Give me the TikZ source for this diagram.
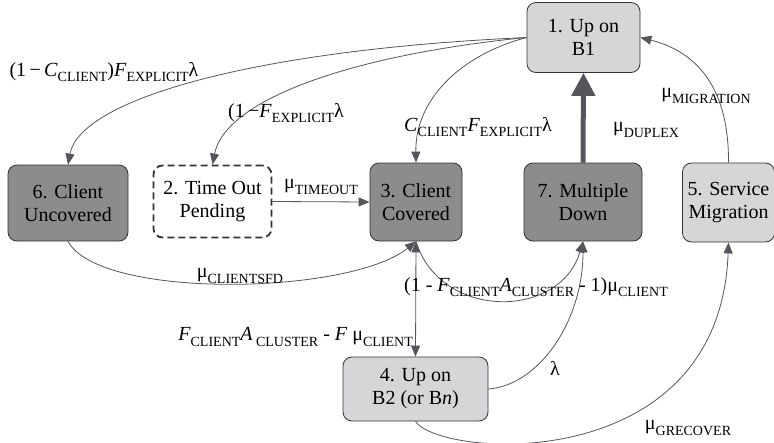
\documentclass[tikz,border=0pt]{standalone}
\usepackage{fontspec}
\setmainfont{Liberation Serif}
\newfontfamily\statefont{Liberation Serif}
\usepackage{tikz}
\usetikzlibrary{arrows.meta,positioning,calc}
\definecolor{darkstate}{HTML}{8C8C8E}
\definecolor{lightstate}{HTML}{D6D6D8}
\definecolor{edgegray}{HTML}{55565B}
\newcommand{\sub}[1]{\raisebox{-0.28em}{\fontsize{14}{14}\selectfont #1}}
\tikzset{
    state/.style={rounded corners=9pt, draw=black!80, thick, align=center, font=\statefont\fontsize{20}{23}\selectfont, inner sep=2pt},
    darkbox/.style={state, fill=darkstate},
    lightbox/.style={state, fill=lightstate},
    pendbox/.style={state, line width=1.8pt, dash pattern=on 7pt off 4pt, fill=white},
    trans/.style={draw=edgegray, line width=0.8pt, -{Triangle[length=11pt,width=9pt]}},
    rate/.style={font=\statefont\fontsize{20}{23}\selectfont, inner sep=1pt}
}

\begin{document}
\begin{tikzpicture}[x=1pt, y=-1pt]
    \useasboundingbox (0,0) rectangle (774,442);

    % States
    \node[lightbox, minimum width=113pt, minimum height=70pt] (up1) at (583.5,37.5) {1. Up on\\B1};
    \node[darkbox, minimum width=120pt, minimum height=76pt] (uncov) at (68,203) {6. Client\\Uncovered};
    \node[pendbox, minimum width=118pt, minimum height=72pt] (pend) at (212.5,201.5) {2. Time Out\\Pending};
    \node[darkbox, minimum width=92pt, minimum height=78pt] (cov) at (416,202) {3. Client\\Covered};
    \node[darkbox, minimum width=118pt, minimum height=78pt] (multi) at (583,202) {7. Multiple\\Down};
    \node[lightbox, minimum width=92pt, minimum height=79pt] (migr) at (728.5,202.5) {5. Service\\Migration};
    \node[lightbox, minimum width=145pt, minimum height=64pt] (up2) at (415.5,389) {4. Up on\\B2 (or B\textit{n})};

    % Transitions out of state 1
    \draw[trans] (up1.west) .. controls (250,50) and (80,100) .. (uncov.north);
    \draw[trans] (up1.west) .. controls (350,55) and (225,100) .. (pend.north);
    \draw[trans] (up1.west) .. controls (460,55) and (415,100) .. (cov.north);

    % Transitions back to state 1
    \draw[draw=edgegray, line width=5pt, -{Triangle[length=23pt,width=23pt]}] (multi.north) -- (up1.south);
    \draw[trans] (migr.north) .. controls (729,80) and (690,50) .. (up1.east);

    % Lower transitions
    \draw[trans] (pend.east) -- (cov.west);
    \draw[trans] (uncov.south) .. controls (100,300) and (350,295) .. (cov.south);
    \draw[trans] (cov.south) .. controls (440,320) and (560,320) .. (multi.south);
    \draw[trans, {Triangle[length=11pt,width=9pt]}-{Triangle[length=11pt,width=9pt]}] (cov.south) -- (up2.north);
    \draw[trans] (up2.east) .. controls (540,385) and (583,320) .. (multi.south);
    \draw[trans] (up2.south) .. controls (440,458) and (720,478) .. (migr.south);

    % Rates
    \node[rate] (r16) at (104,72) {(1\,−\,\textit{C}\sub{CLIENT})\textit{F}\sub{EXPLICIT}λ};
    \node[rate] (r12) at (286,113) {(1\,−\textit{F}\sub{EXPLICIT}λ};
    \node[rate] (r13) at (478,127) {\textit{C}\sub{CLIENT}\textit{F}\sub{EXPLICIT}λ};
    \node[rate] (r71) at (646,130) {μ\sub{DUPLEX}};
    \node[rate] (r51) at (706,96) {μ\sub{MIGRATION}};
    \node[rate] (r23) at (321,187) {μ\sub{TIMEOUT}};
    \node[rate] (r63) at (240,276) {μ\sub{CLIENTSFD}};
    \node[rate] (r37) at (536,287) {(1 - \textit{F}\sub{CLIENT}\textit{A}\sub{CLUSTER} - 1)μ\sub{CLIENT}};
    \node[rate, anchor=east] (r34) at (414,337) {\textit{F}\sub{CLIENT}\textit{A}\,\sub{CLUSTER} - \textit{F} μ\sub{CLIENT}};
    \node[rate] (r47) at (555,368) {λ};
    \node[rate] (r45) at (688,428) {μ\sub{GRECOVER}};
\end{tikzpicture}
\end{document}
